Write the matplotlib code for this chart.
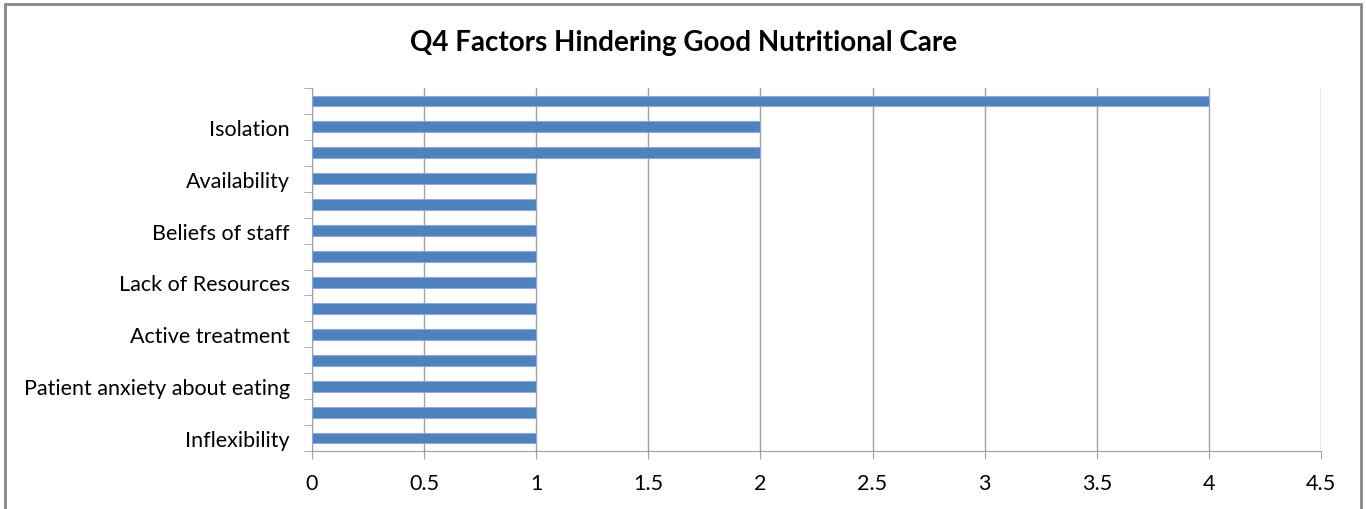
import matplotlib.pyplot as plt
import numpy as np
from matplotlib.patches import Rectangle

# categories listed bottom to top (hidden labels left blank, as in the source chart)
factors = ['Inflexibility', '', 'Patient anxiety about eating', '', 'Active treatment', '',
           'Lack of Resources', '', 'Beliefs of staff', '', 'Availability', '', 'Isolation', '']
counts = [1, 1, 1, 1, 1, 1, 1, 1, 1, 1, 1, 2, 2, 4]
x_ticks = [0, 0.5, 1, 1.5, 2, 2.5, 3, 3.5, 4, 4.5]

plt.rcParams['font.family'] = ['Lato', 'DejaVu Sans']

fig = plt.figure(figsize=(13.66, 5.10), dpi=100)
ax = fig.add_axes([312 / 1366, 1 - 452 / 510, (1321 - 312) / 1366, (452 - 89) / 510])

y_pos = np.arange(len(factors))
ax.barh(y_pos, counts, height=0.42, color='#4F81BD', edgecolor='#8EAADB', linewidth=0.8, zorder=3)

ax.set_xlim(0, 4.5)
ax.set_ylim(-0.5, len(factors) - 0.5)
ax.set_xticks(x_ticks)
ax.set_xticklabels(['{:g}'.format(v) for v in x_ticks], fontsize=15.5)
ax.xaxis.grid(True, color='#A0A0A0', linewidth=1, zorder=0)

ax.set_yticks(y_pos)
ax.set_yticklabels(factors, fontsize=15.5)
ax.set_yticks(np.arange(-0.5, len(factors), 1), minor=True)
ax.tick_params(axis='y', which='major', length=0, pad=16)
ax.tick_params(axis='y', which='minor', length=6, color='#A0A0A0')
ax.tick_params(axis='x', length=6, color='#A0A0A0', pad=10)

for s in ['top', 'right']:
    ax.spines[s].set_visible(False)
for s in ['left', 'bottom']:
    ax.spines[s].set_color('#A0A0A0')

fig.text(684 / 1366, 1 - 43 / 510, 'Q4 Factors Hindering Good Nutritional Care',
         ha='center', va='center', fontsize=20, fontweight='bold')

# chart frame
fig.patches.append(Rectangle((5 / 1366, -0.05), (1361 - 5) / 1366, 1.05 - 5 / 510,
                             transform=fig.transFigure, fill=False, edgecolor='#868686',
                             linewidth=2, clip_on=False))

fig.savefig('out.png', dpi=100)
